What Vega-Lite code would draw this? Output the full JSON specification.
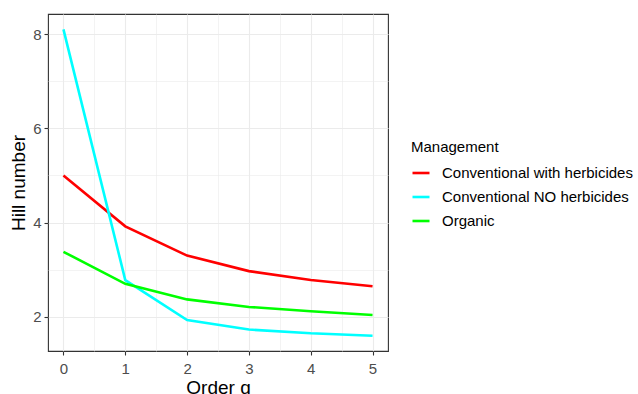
{
  "$schema": "https://vega.github.io/schema/vega-lite/v6.json",
  "width": 340,
  "height": 337,
  "autosize": "none",
  "padding": {"left": 48, "top": 14, "right": 250, "bottom": 43},
  "background": "white",
  "config": {
    "font": "Liberation Sans",
    "view": {"stroke": "#333333", "strokeWidth": 1.1}
  },
  "data": {
    "values": [
      {"q": 0, "value": 5.0, "Management": "Conventional with herbicides"},
      {"q": 1, "value": 3.92, "Management": "Conventional with herbicides"},
      {"q": 2, "value": 3.3, "Management": "Conventional with herbicides"},
      {"q": 3, "value": 2.97, "Management": "Conventional with herbicides"},
      {"q": 4, "value": 2.78, "Management": "Conventional with herbicides"},
      {"q": 5, "value": 2.65, "Management": "Conventional with herbicides"},
      {"q": 0, "value": 8.1, "Management": "Conventional NO herbicides"},
      {"q": 1, "value": 2.78, "Management": "Conventional NO herbicides"},
      {"q": 2, "value": 1.93, "Management": "Conventional NO herbicides"},
      {"q": 3, "value": 1.73, "Management": "Conventional NO herbicides"},
      {"q": 4, "value": 1.65, "Management": "Conventional NO herbicides"},
      {"q": 5, "value": 1.6, "Management": "Conventional NO herbicides"},
      {"q": 0, "value": 3.38, "Management": "Organic"},
      {"q": 1, "value": 2.7, "Management": "Organic"},
      {"q": 2, "value": 2.37, "Management": "Organic"},
      {"q": 3, "value": 2.21, "Management": "Organic"},
      {"q": 4, "value": 2.12, "Management": "Organic"},
      {"q": 5, "value": 2.04, "Management": "Organic"}
    ]
  },
  "layer": [
    {
      "mark": {"type": "line", "strokeWidth": 2.6},
      "encoding": {
        "x": {
          "field": "q", "type": "quantitative",
          "scale": {"domain": [-0.25, 5.25], "nice": false, "zero": false},
          "axis": {
            "values": [0, 1, 2, 3, 4, 5],
            "format": "d",
            "grid": true, "gridColor": "#EBEBEB", "gridWidth": 1.1,
            "domain": false,
            "ticks": true, "tickColor": "#333333", "tickSize": 4, "tickWidth": 1.1,
            "labelFontSize": 15, "labelColor": "#4D4D4D", "labelPadding": 6,
            "title": "Order q", "titleFontSize": 19, "titleFontWeight": "normal",
            "titleColor": "black", "titlePadding": 2
          }
        },
        "y": {
          "field": "value", "type": "quantitative",
          "scale": {"domain": [1.275, 8.425], "nice": false, "zero": false},
          "axis": {
            "values": [2, 4, 6, 8],
            "format": "d",
            "grid": true, "gridColor": "#EBEBEB", "gridWidth": 1.1,
            "domain": false,
            "ticks": true, "tickColor": "#333333", "tickSize": 4, "tickWidth": 1.1,
            "labelFontSize": 15, "labelColor": "#4D4D4D", "labelPadding": 3,
            "title": "Hill number", "titleFontSize": 19, "titleFontWeight": "normal",
            "titleColor": "black", "titlePadding": 4
          }
        },
        "color": {
          "field": "Management", "type": "nominal",
          "scale": {
            "domain": ["Conventional with herbicides", "Conventional NO herbicides", "Organic"],
            "range": ["#FF0000", "#00FFFF", "#00FF00"]
          },
          "legend": {
            "orient": "none", "legendX": 363, "legendY": 126,
            "title": "Management", "titleFontSize": 15, "titleFontWeight": "normal",
            "titleColor": "black", "titlePadding": 8,
            "labelFontSize": 15, "labelColor": "black", "labelOffset": 11, "labelLimit": 400,
            "symbolType": "stroke", "symbolSize": 289, "symbolStrokeWidth": 2.6,
            "rowPadding": 6, "padding": 0
          }
        }
      }
    },
    {
      "mark": {"type": "line", "opacity": 0},
      "encoding": {
        "x": {
          "field": "q", "type": "quantitative",
          "scale": {"domain": [-0.25, 5.25], "nice": false, "zero": false},
          "axis": {
            "values": [0.5, 1.5, 2.5, 3.5, 4.5],
            "grid": true, "gridColor": "#EBEBEB", "gridWidth": 0.6,
            "labels": false, "ticks": false, "domain": false, "title": null
          }
        },
        "y": {
          "field": "value", "type": "quantitative",
          "scale": {"domain": [1.275, 8.425], "nice": false, "zero": false},
          "axis": {
            "values": [3, 5, 7],
            "grid": true, "gridColor": "#EBEBEB", "gridWidth": 0.6,
            "labels": false, "ticks": false, "domain": false, "title": null
          }
        },
        "detail": {"field": "Management"}
      }
    }
  ],
  "resolve": {"axis": {"x": "independent", "y": "independent"}}
}
